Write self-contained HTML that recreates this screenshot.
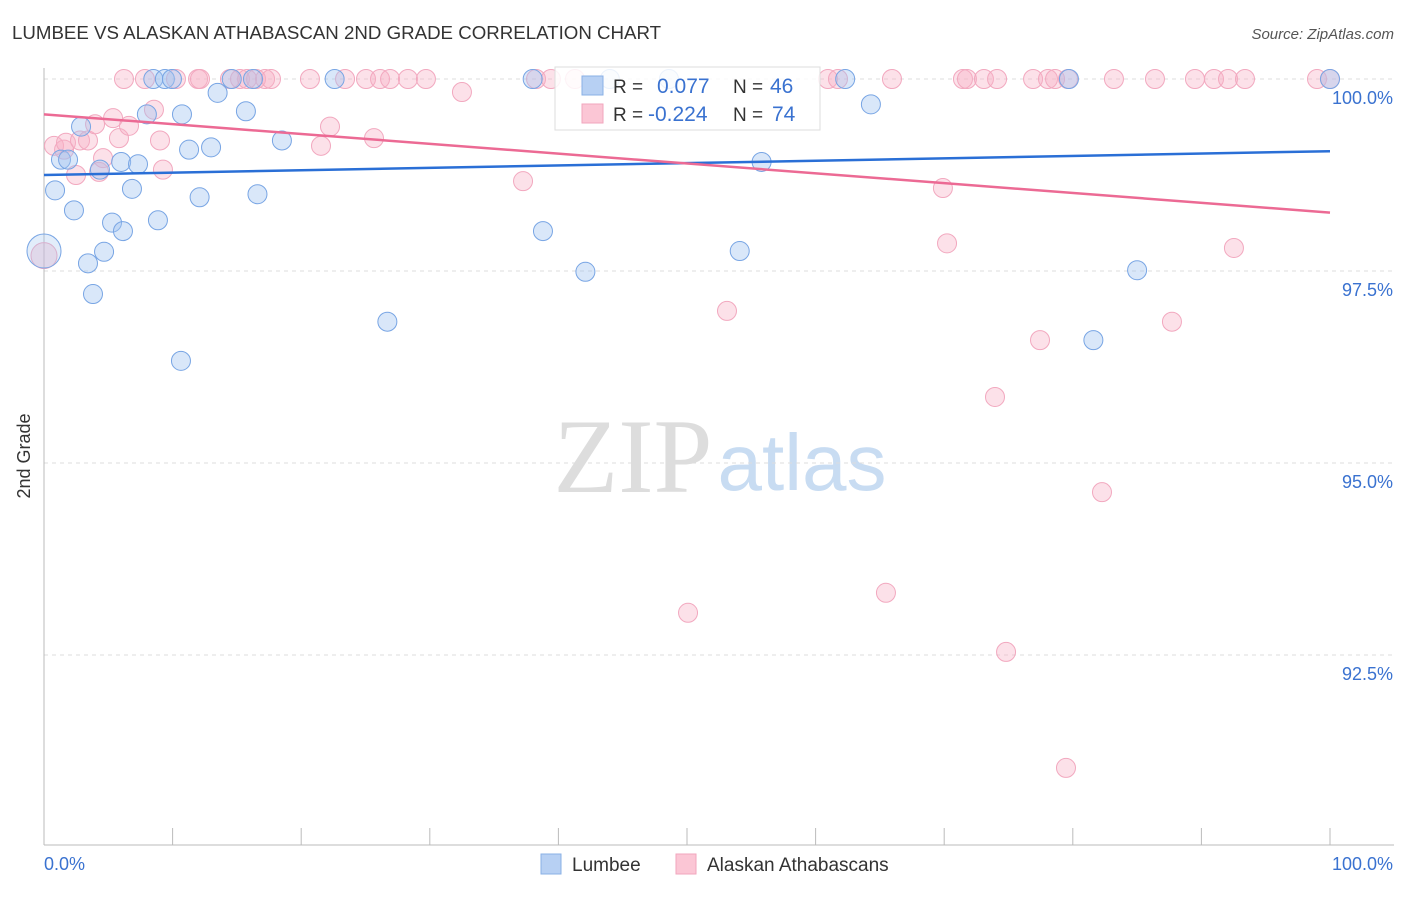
<!DOCTYPE html>
<html><head><meta charset="utf-8"><style>
body{margin:0;background:#fff;font-family:"Liberation Sans",sans-serif;}
</style></head><body>
<svg id="chart" width="1406" height="892" xmlns="http://www.w3.org/2000/svg">
<text x="12" y="39" font-size="18.7" fill="#333">LUMBEE VS ALASKAN ATHABASCAN 2ND GRADE CORRELATION CHART</text>
<text x="1394" y="39" font-size="15" fill="#555" font-style="italic" text-anchor="end">Source: ZipAtlas.com</text>
<text x="30" y="456" font-size="18" fill="#333" text-anchor="middle" transform="rotate(-90 30 456)">2nd Grade</text>
<g>
<text x="633" y="492" font-size="106" font-family="Liberation Serif,serif" fill="#ddd" text-anchor="middle">ZIP</text>
<text x="802" y="490" font-size="80" fill="#c8dcf2" text-anchor="middle">atlas</text>
</g>
<g id="grid"></g><g id="axes"></g><g id="pts"></g><g id="trends"></g>
<g>
<rect x="555" y="67" width="265" height="63" fill="rgba(255,255,255,0.85)" stroke="#ddd"/>
<rect x="582" y="76" width="21" height="19" fill="#b7d0f3" stroke="#8ab0e6"/>
<rect x="582" y="104" width="21" height="19" fill="#fbc6d5" stroke="#f2a6bd"/>
<text x="613" y="93" font-size="19" fill="#333">R =</text><text x="657" y="93" font-size="21" fill="#3a72d0">0.077</text>
<text x="733" y="93" font-size="19" fill="#333">N =</text><text x="770" y="93" font-size="21" fill="#3a72d0">46</text>
<text x="613" y="121" font-size="19" fill="#333">R =</text><text x="648" y="121" font-size="21" fill="#3a72d0">-0.224</text>
<text x="733" y="121" font-size="19" fill="#333">N =</text><text x="772" y="121" font-size="21" fill="#3a72d0">74</text>
</g>
<g>
<rect x="541" y="854" width="20" height="20" fill="#b7d0f3" stroke="#8ab0e6"/>
<text x="572" y="871" font-size="19" fill="#333">Lumbee</text>
<rect x="676" y="854" width="20" height="20" fill="#fbc6d5" stroke="#f2a6bd"/>
<text x="707" y="871" font-size="19" fill="#333">Alaskan Athabascans</text>
</g>
</svg>
<script>
const yTicks=[100,97.5,95,92.5];
const yTickLabels=["100.0%","97.5%","95.0%","92.5%"];
const xTickLabels=["0.0%","100.0%"];
const blueX=[0,0.86,1.32,1.87,2.33,2.88,3.42,3.81,4.35,4.67,5.29,6.0,6.14,6.84,7.31,8.0,8.5,8.86,9.4,9.95,10.65,10.73,11.28,12.1,12.99,13.5,14.6,15.7,16.25,16.6,18.5,22.6,26.7,38.0,38.8,42.1,48.6,54.1,55.8,62.3,64.3,79.7,81.6,85.0,100,44.0];
const blueY=[97.76,98.55,98.95,98.95,98.29,99.38,97.6,97.2,98.82,97.75,98.13,98.92,98.02,98.57,98.89,99.54,100,98.16,100,100,96.33,99.54,99.08,98.46,99.11,99.82,100,99.58,100,98.5,99.2,100,96.84,100,98.02,97.49,100,97.76,98.92,100,99.67,100,96.6,97.51,100,100];
const pinkTopPx=[124,145,176,198,200,230,240,247,256,265,271,310,345,366,380,390,408,426,536,551,575,828,838,892,963,967,984,997,1033,1048,1055,1068,1114,1155,1195,1214,1228,1245,1317,1330];
const pinkX=pinkTopPx.map(p=>+((p-44)/12.86).toFixed(2)).concat([0,0.78,1.56,1.71,2.49,2.8,3.42,3.97,4.28,4.59,5.37,5.83,6.61,8.55,9.02,9.25,21.54,22.24,25.66,32.5,37.25,50.08,53.11,65.47,69.9,70.22,73.95,74.81,77.45,79.47,82.27,87.71,92.53]);
const pinkY=pinkTopPx.map(()=>100).concat([97.7,99.13,99.08,99.17,98.75,99.2,99.2,99.41,98.79,98.97,99.49,99.23,99.39,99.6,99.2,98.82,99.13,99.38,99.23,99.83,98.67,93.05,96.98,93.31,98.58,97.86,95.86,92.54,96.6,91.03,94.62,96.84,97.8]);
const blueTrend=[98.75,99.06];
const pinkTrend=[99.54,98.26];
const NS="http://www.w3.org/2000/svg";
const X=v=>44+v*12.86, Y=v=>79+(100-v)*76.8;
function mk(tag,attrs,parent){const e=document.createElementNS(NS,tag);for(const k in attrs)e.setAttribute(k,attrs[k]);document.getElementById(parent).appendChild(e);return e;}
yTicks.forEach((t,i)=>{
 const l=mk('line',{x1:44,x2:1394,y1:Y(t),y2:Y(t),stroke:'#ddd','stroke-dasharray':'4,4'},'grid');
 
 
 const tx=mk('text',{x:1393,y:Y(t)+25,'font-size':18,fill:'#3a72d0','text-anchor':'end'},'grid');
 tx.textContent=yTickLabels[i];
 
 
});
let a=mk('line',{x1:44,x2:44,y1:68,y2:845,stroke:'#bbb'},'axes');


a=mk('line',{x1:44,x2:1394,y1:845,y2:845,stroke:'#bbb'},'axes');


for(let i=0;i<=10;i++){const t=mk('line',{x1:X(i*10),x2:X(i*10),y1:828,y2:845,stroke:'#bbb'},'axes');
 
 }
[[0,'start'],[100,'end']].forEach((p,i)=>{const t=mk('text',{x:i?1393:44,y:870,'font-size':18,fill:'#3a72d0','text-anchor':p[1]},'axes');t.textContent=xTickLabels[i];
 
 });
pinkX.forEach((x,i)=>{const c=mk('circle',{cx:X(x),cy:Y(pinkY[i]),r:i===40?13:9.5,fill:'rgba(248,176,198,0.38)',stroke:'#f2a8bf','stroke-width':1},'pts');
 
 });
blueX.forEach((x,i)=>{const c=mk('circle',{cx:X(x),cy:Y(blueY[i]),r:i===0?17:9.5,fill:i===0?'rgba(160,196,240,0.3)':'rgba(160,196,240,0.4)',stroke:'#78a5e4','stroke-width':1},'pts');
 
 });
let tl=mk('line',{x1:X(0),x2:X(100),y1:Y(blueTrend[0]),y2:Y(blueTrend[1]),stroke:'#2a6fd6','stroke-width':2.5},'trends');


tl=mk('line',{x1:X(0),x2:X(100),y1:Y(pinkTrend[0]),y2:Y(pinkTrend[1]),stroke:'#ec6a94','stroke-width':2.5},'trends');


</script>
</body></html>
